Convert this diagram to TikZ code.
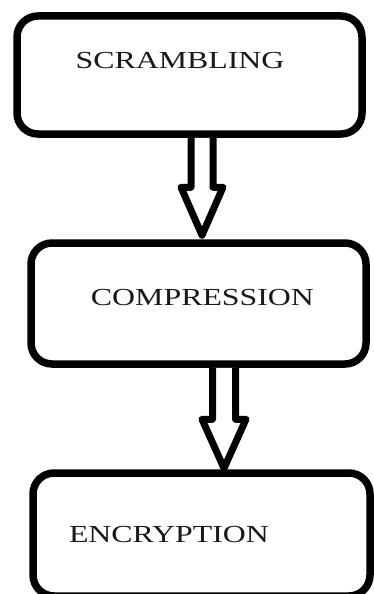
\documentclass[tikz,border=0pt]{standalone}
\usepackage{fontspec}
\setmainfont{Liberation Serif}
\usetikzlibrary{calc}

\tikzset{
  stage/.style={draw=black, line width=7.5pt, rounded corners=21pt,
    rectangle, inner sep=0pt, fill=white},
  caption/.style={anchor=base, inner sep=0pt, text=black!90,
    font=\fontsize{24.5}{28}\selectfont},
  hollow/.style={draw=black, line width=7pt, line join=round, fill=white}
}
\newcommand{\wide}[1]{\scalebox{1.3}[1]{#1}}

\begin{document}
\begin{tikzpicture}[x=1pt, y=-1pt]
  \fill[white] (0,0) rectangle (373,594);
  \useasboundingbox (0,0) rectangle (373,594);

  % the three processing stages
  \node[stage, minimum width=345pt, minimum height=118pt] (b1) at (189.5,75) {};
  \node[stage, minimum width=335pt, minimum height=121pt] (b2) at (198.5,303.5) {};
  \node[stage, minimum width=337pt, minimum height=123pt] (b3) at (201.5,534.5) {};

  \node[caption] (l1) at (180,68) {\wide{SCRAMBLING}};
  \node[caption] (l2) at (202.5,305) {\wide{COMPRESSION}};
  \node[caption] (l3) at (169,542) {\wide{ENCRYPTION}};

  % hollow block arrows between the stages
  \coordinate (t1) at ($(b2.north)+(3.5,-4)$);
  \draw[hollow] ($(b1.south)+(1.5,0)$) |- ($(t1)+(-21,-48)$) -- (t1)
    -- ($(t1)+(21,-48)$) -| ($(b1.south)+(23.5,0)$);

  \coordinate (t2) at ($(b3.north)+(22.5,-1)$);
  \draw[hollow] ($(b2.south)+(14,0)$) |- ($(t2)+(-22,-49)$) -- (t2)
    -- ($(t2)+(22,-49)$) -| ($(b2.south)+(37,0)$);
\end{tikzpicture}
\end{document}
